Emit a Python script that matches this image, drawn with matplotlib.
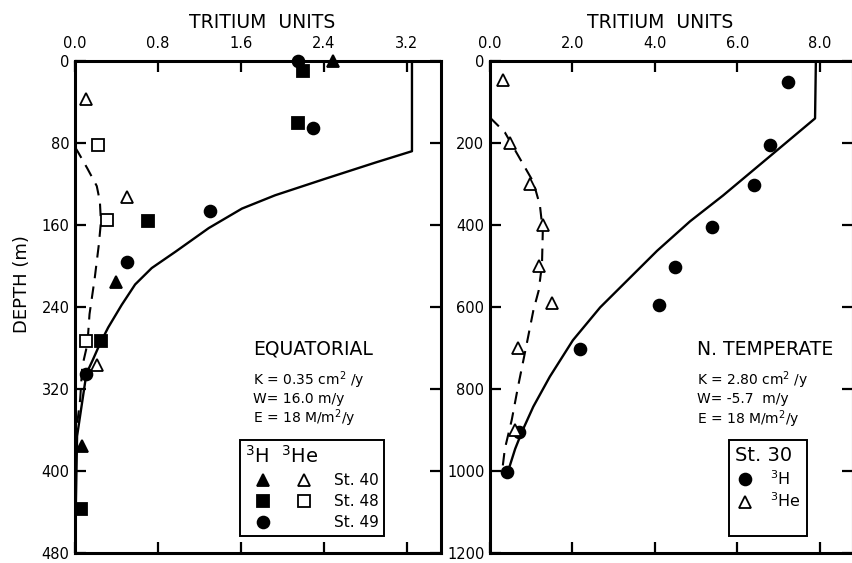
import matplotlib
matplotlib.use('Agg')
import matplotlib.pyplot as plt
from matplotlib.lines import Line2D
from matplotlib.legend_handler import HandlerTuple

# ---- Equatorial panel ----
eq_model_h_x = [3.25, 3.25, 2.90, 2.41, 1.93, 1.61, 1.29, 0.97, 0.74, 0.58, 0.45, 0.32,
                0.24, 0.17, 0.11, 0.02, 0.0]
eq_model_h_d = [0, 88, 99, 115, 131, 144, 163, 186, 202, 218, 238, 260,
                276, 292, 305, 366, 480]
eq_model_he_x = [0.0, 0.03, 0.12, 0.21, 0.24, 0.25, 0.23, 0.19, 0.14, 0.12, 0.07, 0.05, 0.01]
eq_model_he_d = [84, 89, 105, 122, 137, 157, 179, 212, 247, 276, 298, 330, 363]

st40_h_x = [2.49, 0.40, 0.07]
st40_h_d = [0, 216, 376]
st48_h_x = [2.20, 2.15, 0.70, 0.25, 0.06]
st48_h_d = [10, 60, 156, 273, 437]
st49_h_x = [2.15, 2.30, 1.30, 0.50, 0.11]
st49_h_d = [0, 65, 146, 196, 305]
st40_he_x = [0.11, 0.50, 0.21]
st40_he_d = [37, 133, 297]
st48_he_x = [0.22, 0.31, 0.11]
st48_he_d = [82, 155, 273]

# ---- N. Temperate panel ----
nt_model_h_x = [7.9, 7.88, 6.79, 5.65, 4.85, 4.05, 3.39, 2.91, 2.67, 2.01, 1.45, 1.05,
                0.78, 0.61, 0.44]
nt_model_h_d = [0, 140, 232, 328, 391, 463, 529, 577, 601, 681, 770, 843,
                903, 946, 1000]
nt_model_he_x = [0.0, 0.36, 0.73, 1.05, 1.21, 1.28, 1.26, 1.18, 1.05, 0.89, 0.68, 0.53,
                 0.36, 0.29]
nt_model_he_d = [138, 174, 239, 295, 352, 415, 497, 560, 609, 690, 794, 874,
                 946, 1004]

st30_h_x = [7.22, 6.79, 6.40, 5.38, 4.48, 4.10, 2.18, 0.70, 0.41]
st30_h_d = [50, 204, 303, 404, 503, 596, 703, 906, 1002]
st30_he_x = [0.32, 0.48, 0.97, 1.29, 1.19, 1.50, 0.68, 0.61]
st30_he_d = [46, 201, 300, 400, 500, 591, 700, 900]

eq_xticks = [0.0, 0.8, 1.6, 2.4, 3.2]
eq_yticks = [0, 80, 160, 240, 320, 400, 480]
nt_xticks = [0.0, 2.0, 4.0, 6.0, 8.0]
nt_yticks = [0, 200, 400, 600, 800, 1000, 1200]

plt.rcParams['font.family'] = ['DejaVu Sans']
plt.rcParams['mathtext.default'] = 'regular'

fig = plt.figure(figsize=(8.53, 5.63), dpi=100)
ax1 = fig.add_axes([75/853, 10/563, 366/853, 492/563])
ax2 = fig.add_axes([490/853, 10/563, 363/853, 492/563])

mk = dict(linestyle='none', markersize=8.5, markeredgecolor='black',
          markeredgewidth=1.3, clip_on=False, zorder=5)


def style(ax, xticks, yticks, xmax):
    ax.set_xlim(0, xmax)
    ax.set_ylim(yticks[-1], 0)
    ax.set_xticks(xticks)
    ax.set_xticklabels(['%.1f' % v for v in xticks])
    ax.set_yticks(yticks)
    ax.set_yticklabels([str(v) for v in yticks])
    ax.tick_params(direction='in', top=True, bottom=True, left=True, right=True,
                   labeltop=True, labelbottom=False, length=8, width=1.6,
                   labelsize=10.5)
    ax.tick_params(axis='x', pad=7)
    ax.tick_params(axis='y', pad=4)
    for s in ax.spines.values():
        s.set_linewidth(2.2)
    ax.xaxis.set_label_position('top')
    ax.set_xlabel('TRITIUM  UNITS', fontsize=13.5, labelpad=6)


style(ax1, eq_xticks, eq_yticks, 3.53)
style(ax2, nt_xticks, nt_yticks, 8.8)
ax1.xaxis.label.set_x(0.51)
ax2.xaxis.label.set_x(0.468)

ax1.set_ylabel('DEPTH (m)', fontsize=13)
ax1.yaxis.set_label_coords(-0.12, 0.547)

# Equatorial
ax1.plot(eq_model_h_x, eq_model_h_d, color='black', lw=1.7)
ax1.plot(eq_model_he_x, eq_model_he_d, color='black', lw=1.5, dashes=(6, 4))
h40, = ax1.plot(st40_h_x, st40_h_d, marker='^', color='black', **mk)
h48, = ax1.plot(st48_h_x, st48_h_d, marker='s', color='black', **mk)
h49, = ax1.plot(st49_h_x, st49_h_d, marker='o', color='black', **mk)
o40, = ax1.plot(st40_he_x, st40_he_d, marker='^', markerfacecolor='white', **mk)
o48, = ax1.plot(st48_he_x, st48_he_d, marker='s', markerfacecolor='white', **mk)
blank = Line2D([], [], linestyle='none', marker=None)

ax1.text(0.486, 0.414, 'EQUATORIAL', transform=ax1.transAxes, fontsize=13.5, va='center')
ax1.text(0.486, 0.352, 'K = 0.35 cm$^2$ /y', transform=ax1.transAxes, fontsize=10, va='center')
ax1.text(0.486, 0.314, 'W= 16.0 m/y', transform=ax1.transAxes, fontsize=10, va='center')
ax1.text(0.486, 0.274, 'E = 18 M/m$^2$/y', transform=ax1.transAxes, fontsize=10, va='center')

leg1 = ax1.legend([(h40, o40), (h48, o48), (h49, blank)], ['St. 40', 'St. 48', 'St. 49'],
                  handler_map={tuple: HandlerTuple(ndivide=None, pad=0.46)},
                  title='$^3$H  $^3$He', title_fontsize=14, fontsize=11,
                  loc='lower left', bbox_to_anchor=(0.451, 0.035), borderaxespad=0,
                  fancybox=False, edgecolor='black', framealpha=1,
                  handlelength=5.0, handletextpad=0.8, labelspacing=0.4,
                  borderpad=0.35)
leg1.get_frame().set_linewidth(1.4)
leg1._legend_box.align = 'left'

# N. Temperate
ax2.plot(nt_model_h_x, nt_model_h_d, color='black', lw=1.7)
ax2.plot(nt_model_he_x, nt_model_he_d, color='black', lw=1.5, dashes=(6, 4))
c30, = ax2.plot(st30_h_x, st30_h_d, marker='o', color='black', **mk)
t30, = ax2.plot(st30_he_x, st30_he_d, marker='^', markerfacecolor='white', **mk)

ax2.text(0.570, 0.414, 'N. TEMPERATE', transform=ax2.transAxes, fontsize=13.5, va='center')
ax2.text(0.570, 0.352, 'K = 2.80 cm$^2$ /y', transform=ax2.transAxes, fontsize=10, va='center')
ax2.text(0.570, 0.313, 'W= -5.7  m/y', transform=ax2.transAxes, fontsize=10, va='center')
ax2.text(0.570, 0.272, 'E = 18 M/m$^2$/y', transform=ax2.transAxes, fontsize=10, va='center')

leg2 = ax2.legend([c30, t30, blank], ['$^3$H', '$^3$He', ' '],
                  title='St. 30', title_fontsize=14, fontsize=11.5,
                  loc='lower left', bbox_to_anchor=(0.658, 0.035), borderaxespad=0,
                  fancybox=False, edgecolor='black', framealpha=1,
                  handlelength=1.2, handletextpad=0.95, labelspacing=0.25,
                  borderpad=0.4)
leg2.get_frame().set_linewidth(1.4)
leg2._legend_box.align = 'left'

fig.savefig('out.png', dpi=100)
